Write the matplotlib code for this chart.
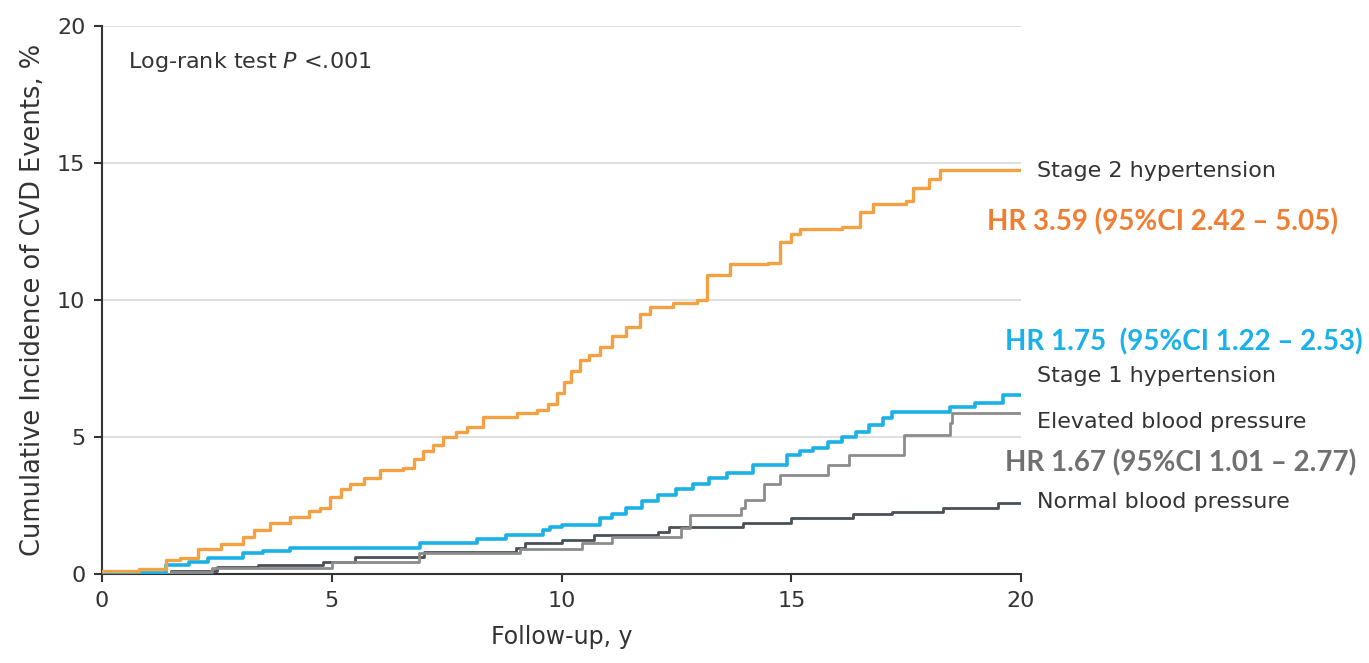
import numpy as np
import matplotlib.pyplot as plt

# Kaplan-Meier style cumulative incidence
t_s2 = [0, 0.8, 1.4, 1.7, 2.1, 2.6, 3.07, 3.3, 3.66, 4.09, 4.5, 4.74, 4.96, 5.2, 5.4, 5.7,
        6.05, 6.55, 6.8, 6.99, 7.2, 7.42, 7.7, 7.94, 8.29, 9.03, 9.47, 9.7, 9.9, 10.05, 10.2,
        10.4, 10.6, 10.84, 11.1, 11.4, 11.7, 11.93, 12.43, 12.95, 13.17, 13.67, 14.5, 14.75,
        15.0, 15.19, 16.1, 16.5, 16.78, 17.5, 17.65, 18.0, 18.24, 20]
y_s2 = [0.1, 0.2, 0.5, 0.6, 0.9, 1.1, 1.35, 1.6, 1.86, 2.08, 2.3, 2.4, 2.8, 3.1, 3.3, 3.5,
        3.8, 3.87, 4.2, 4.5, 4.7, 5.0, 5.2, 5.37, 5.73, 5.87, 6.0, 6.2, 6.6, 7.0, 7.4,
        7.8, 8.0, 8.3, 8.7, 9.0, 9.5, 9.75, 9.9, 10.0, 10.9, 11.3, 11.35, 12.1,
        12.4, 12.6, 12.67, 13.2, 13.5, 13.6, 14.1, 14.4, 14.75, 14.75]

t_s1 = [0, 1.4, 1.9, 2.3, 3.07, 3.5, 4.1, 6.92, 8.16, 8.8, 9.6, 9.75, 10.0, 10.84, 11.1,
        11.4, 11.75, 12.1, 12.5, 12.86, 13.2, 13.6, 14.17, 14.9, 15.2, 15.47, 15.8, 16.1,
        16.4, 16.7, 17.0, 17.2, 18.45, 19.0, 19.6, 20]
y_s1 = [0.05, 0.33, 0.45, 0.58, 0.77, 0.84, 0.94, 1.13, 1.28, 1.42, 1.6, 1.7, 1.78, 2.04, 2.2,
        2.4, 2.65, 2.88, 3.1, 3.3, 3.5, 3.68, 3.98, 4.34, 4.5, 4.6, 4.8, 5.0,
        5.2, 5.44, 5.7, 5.9, 6.1, 6.23, 6.53, 6.53]

t_el = [0, 1.5, 2.4, 5.0, 6.9, 9.1, 10.45, 11.1, 12.6, 12.8, 13.9, 14.0, 14.4, 14.75,
        15.8, 16.25, 17.45, 18.45, 18.5, 20]
y_el = [0, 0.07, 0.22, 0.45, 0.75, 0.9, 1.13, 1.35, 1.67, 2.15, 2.4, 2.7, 3.3, 3.6,
        3.98, 4.34, 5.07, 5.5, 5.87, 5.87]

t_nb = [0, 1.5, 2.5, 3.4, 4.8, 5.5, 7.0, 9.0, 9.2, 10.0, 10.7, 12.1, 12.35, 13.95, 15.0,
        16.35, 17.2, 18.3, 19.5, 20]
y_nb = [0, 0.1, 0.25, 0.33, 0.45, 0.62, 0.8, 0.95, 1.13, 1.24, 1.42, 1.53, 1.7, 1.86, 2.04,
        2.2, 2.26, 2.4, 2.6, 2.6]

W, H = 1369, 663
fig = plt.figure(figsize=(W / 100, H / 100), dpi=100)
ax = fig.add_axes([102 / W, 1 - 574 / H, (1021 - 102) / W, (574 - 26) / H])

lab_font = ['DejaVu Sans']
hr_font = ['Lato', 'DejaVu Sans']

for v in [5, 10, 15, 20]:
    ax.axhline(v, color='#d9d9d9', lw=1.2, zorder=0)

ax.plot(t_nb, y_nb, drawstyle='steps-post', color='#4a5058', lw=2.0, zorder=2)
ax.plot(t_el, y_el, drawstyle='steps-post', color='#8c8c8c', lw=2.0, zorder=3)
ax.plot(t_s1, y_s1, drawstyle='steps-post', color='#1ab2e6', lw=2.6, zorder=4)
ax.plot(t_s2, y_s2, drawstyle='steps-post', color='#f3a142', lw=2.4, zorder=5)

ax.set_xlim(0, 20)
ax.set_ylim(0, 20)
ax.set_xticks([0, 5, 10, 15, 20])
ax.set_yticks([0, 5, 10, 15, 20])
for s in ['top', 'right']:
    ax.spines[s].set_visible(False)
for s in ['left', 'bottom']:
    ax.spines[s].set_color('#333333')
    ax.spines[s].set_linewidth(1.5)
ax.tick_params(axis='both', direction='out', length=6, width=1.5, color='#333333',
               labelsize=16, labelcolor='#333333', pad=6)
for lbl in ax.get_xticklabels() + ax.get_yticklabels():
    lbl.set_family(lab_font)

ax.set_xlabel('Follow-up, y', fontsize=17, family=lab_font, color='#333333', labelpad=10)
ax.set_ylabel('Cumulative Incidence of CVD Events, %', fontsize=18.5, family=lab_font,
              color='#333333', labelpad=8)

def ftext(x, y, s, **kw):
    fig.text(x / W, 1 - y / H, s, va='center', ha='left', **kw)

ftext(128, 62, 'Log-rank test $\\it{P}$ <.001', fontsize=16, family=lab_font, color='#333333')
ftext(1037, 171, 'Stage 2 hypertension', fontsize=16, family=lab_font, color='#333333')
ftext(1037, 376, 'Stage 1 hypertension', fontsize=16, family=lab_font, color='#333333')
ftext(1037, 422, 'Elevated blood pressure', fontsize=16, family=lab_font, color='#333333')
ftext(1037, 502, 'Normal blood pressure', fontsize=16, family=lab_font, color='#333333')

ftext(987, 222, 'HR 3.59 (95%CI 2.42 – 5.05)', fontsize=20, family=hr_font,
      weight='bold', color='#ef7d32')
ftext(1005, 342, 'HR 1.75  (95%CI 1.22 – 2.53)', fontsize=20, family=hr_font,
      weight='bold', color='#1ab0ea')
ftext(1005, 463, 'HR 1.67 (95%CI 1.01 – 2.77)', fontsize=20, family=hr_font,
      weight='bold', color='#707070')

fig.savefig('out.png', dpi=100)
